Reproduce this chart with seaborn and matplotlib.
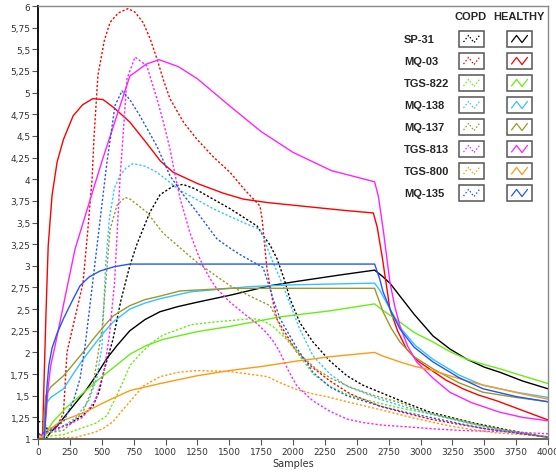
import numpy as np
import pandas as pd
import seaborn as sns
import matplotlib.pyplot as plt
from matplotlib.lines import Line2D
from matplotlib.patches import Rectangle
from matplotlib.ticker import FuncFormatter, MultipleLocator

# ---- data (samples, sensor response) ----
sensors = ["SP-31", "MQ-03", "TGS-822", "MQ-138", "MQ-137", "TGS-813", "TGS-800", "MQ-135"]
colors = ["#000000", "#ff0000", "#66ee11", "#33c4ff", "#99992a", "#ff22ff", "#ff9910", "#2255ff"]

# HEALTHY (solid)
sp31_h_x = [0, 60, 100, 150, 275, 380, 463, 540, 620, 720, 840, 957, 1100, 1250, 1506, 1820, 2030, 2350, 2640, 2700,
            2760, 2839, 2950, 3098, 3230, 3365, 3500, 3624, 3800, 4000]
sp31_h_y = [1.0, 1.0, 1.08, 1.15, 1.38, 1.57, 1.75, 1.93, 2.08, 2.25, 2.38, 2.47, 2.53, 2.58, 2.66, 2.77, 2.82, 2.89, 2.95,
            2.88, 2.80, 2.65, 2.44, 2.19, 2.04, 1.92, 1.83, 1.77, 1.67, 1.58]
mq03_h_x = [0, 35, 50, 63, 80, 110, 150, 200, 275, 350, 430, 510, 600, 720, 850, 960, 1060, 1250, 1450, 1610, 1800, 2000,
            2200, 2400, 2630, 2660, 2700, 2730, 2760, 2820, 2890, 2980, 3070, 3200, 3333, 3450, 3600, 3800, 4000]
mq03_h_y = [1.0, 1.0, 1.8, 2.47, 3.23, 3.81, 4.20, 4.46, 4.73, 4.86, 4.93, 4.92, 4.82, 4.66, 4.42, 4.21, 4.08, 3.95, 3.84,
            3.77, 3.73, 3.70, 3.67, 3.64, 3.61, 3.45, 3.10, 2.80, 2.50, 2.25, 2.04, 1.90, 1.81, 1.68, 1.58, 1.51, 1.44,
            1.33, 1.22]
tgs822_h_x = [0, 50, 118, 220, 330, 460, 588, 722, 850, 980, 1250, 1506, 1898, 2290, 2640, 2700, 2770, 2839, 2950, 3098,
              3230, 3365, 3500, 3624, 3800, 4000]
tgs822_h_y = [1.0, 1.05, 1.2, 1.36, 1.5, 1.67, 1.82, 1.98, 2.08, 2.15, 2.24, 2.30, 2.41, 2.48, 2.56, 2.49, 2.42, 2.35,
              2.23, 2.12, 2.01, 1.92, 1.86, 1.81, 1.73, 1.64]
mq138_h_x = [0, 40, 50, 60, 100, 200, 280, 353, 431, 510, 588, 720, 840, 957, 1200, 1663, 2000, 2640, 2680, 2761, 2850,
             2960, 3098, 3300, 3490, 3750, 4000]
mq138_h_y = [1.0, 1.0, 1.2, 1.4, 1.48, 1.58, 1.76, 1.92, 2.07, 2.22, 2.35, 2.50, 2.57, 2.62, 2.70, 2.76, 2.78, 2.80, 2.72,
             2.50, 2.27, 2.08, 1.92, 1.74, 1.62, 1.54, 1.48]
mq137_h_x = [0, 40, 50, 60, 100, 200, 280, 353, 431, 510, 588, 720, 840, 957, 1114, 1506, 2000, 2640, 2706, 2770, 2839,
             2950, 3098, 3300, 3490, 3750, 4000]
mq137_h_y = [1.0, 1.0, 1.3, 1.5, 1.6, 1.73, 1.87, 2.0, 2.15, 2.29, 2.42, 2.54, 2.61, 2.65, 2.71, 2.74, 2.74, 2.74, 2.47,
             2.28, 2.12, 1.95, 1.81, 1.65, 1.54, 1.48, 1.43]
tgs813_h_x = [0, 50, 65, 80, 100, 133, 200, 290, 400, 500, 600, 720, 850, 950, 1100, 1250, 1500, 1750, 2000, 2300, 2640,
              2670, 2710, 2760, 2800, 2840, 2900, 2970, 3100, 3230, 3400, 3620, 3800, 4000]
tgs813_h_y = [1.05, 1.05, 1.3, 1.6, 1.85, 2.07, 2.55, 3.19, 3.72, 4.2, 4.65, 5.19, 5.33, 5.38, 5.3, 5.16, 4.85, 4.55,
              4.31, 4.1, 3.97, 3.80, 3.39, 2.81, 2.52, 2.30, 2.07, 1.89, 1.70, 1.54, 1.42, 1.31, 1.25, 1.21]
tgs800_h_x = [0, 60, 100, 172, 280, 384, 488, 588, 722, 840, 957, 1247, 1500, 1765, 2030, 2290, 2640, 2700, 2839, 2950,
              3098, 3230, 3365, 3500, 3624, 3800, 4000]
tgs800_h_y = [1.0, 1.05, 1.12, 1.2, 1.26, 1.32, 1.40, 1.47, 1.56, 1.60, 1.64, 1.73, 1.79, 1.84, 1.90, 1.95, 2.0, 1.96,
              1.89, 1.84, 1.79, 1.73, 1.67, 1.62, 1.58, 1.52, 1.46]
mq135_h_x = [0, 50, 60, 70, 85, 110, 150, 200, 270, 330, 400, 486, 600, 720, 2640, 2680, 2706, 2770, 2839, 2950, 3098,
             3300, 3490, 3750, 4000]
mq135_h_y = [1.0, 1.0, 1.3, 1.6, 1.85, 2.05, 2.22, 2.39, 2.6, 2.77, 2.87, 2.94, 2.99, 3.02, 3.02, 2.85, 2.70, 2.47, 2.27,
             2.06, 1.89, 1.71, 1.58, 1.49, 1.43]

# COPD (dotted)
sp31_c_x = [0, 50, 70, 150, 250, 350, 431, 480, 520, 588, 650, 720, 776, 878, 957, 1059, 1137, 1230, 1325, 1506, 1718,
            1765, 1820, 1875, 1930, 1976, 2055, 2157, 2290, 2423, 2550, 2682, 2880, 3074, 3400, 3700, 4000]
sp31_c_y = [1.2, 1.2, 1.12, 1.12, 1.18, 1.27, 1.38, 1.55, 1.8, 2.15, 2.6, 3.0, 3.25, 3.62, 3.82, 3.92, 3.94, 3.89, 3.81,
            3.66, 3.46, 3.35, 3.24, 3.08, 2.85, 2.62, 2.34, 2.12, 1.9, 1.73, 1.62, 1.54, 1.42, 1.31, 1.19, 1.1, 1.02]
mq03_c_x = [0, 60, 150, 200, 227, 290, 353, 390, 424, 440, 470, 520, 565, 630, 706, 760, 824, 880, 933, 985, 1035, 1140,
            1247, 1380, 1506, 1620, 1741, 1757, 1796, 1840, 1875, 1950, 2031, 2150, 2290, 2450, 2682, 2880, 3074, 3300,
            3500, 3750, 4000]
mq03_c_y = [1.0, 1.1, 1.15, 1.3, 2.0, 2.4, 2.8, 3.4, 4.0, 4.5, 5.2, 5.6, 5.81, 5.92, 5.97, 5.93, 5.81, 5.62, 5.39, 5.14,
            4.93, 4.66, 4.46, 4.25, 4.08, 3.88, 3.69, 3.55, 2.96, 2.6, 2.38, 2.2, 2.0, 1.83, 1.67, 1.52, 1.38, 1.3, 1.23,
            1.17, 1.12, 1.07, 1.02]
tgs822_c_x = [0, 200, 330, 450, 541, 600, 667, 722, 800, 900, 980, 1200, 1373, 1686, 1760, 1843, 1950, 2031, 2157, 2300,
              2420, 2549, 2800, 3074, 3300, 3500, 3750, 4000]
tgs822_c_y = [1.02, 1.05, 1.12, 1.18, 1.27, 1.45, 1.66, 1.85, 1.98, 2.12, 2.2, 2.32, 2.35, 2.39, 2.37, 2.30, 2.15, 2.0,
              1.75, 1.6, 1.52, 1.46, 1.37, 1.29, 1.22, 1.15, 1.08, 1.02]
mq138_c_x = [0, 150, 300, 400, 460, 502, 530, 560, 600, 643, 690, 745, 840, 933, 1114, 1373, 1608, 1741, 1765, 1800,
             1843, 1900, 1953, 2050, 2157, 2290, 2423, 2682, 2880, 3074, 3300, 3500, 3750, 4000]
mq138_c_y = [1.05, 1.1, 1.25, 1.45, 1.7, 2.07, 3.0, 3.55, 3.9, 4.04, 4.13, 4.18, 4.15, 4.08, 3.87, 3.66, 3.5, 3.42, 3.35,
             3.2, 3.04, 2.85, 2.65, 2.28, 1.96, 1.75, 1.61, 1.46, 1.37, 1.29, 1.21, 1.14, 1.08, 1.02]
mq137_c_x = [0, 200, 350, 430, 502, 565, 620, 682, 722, 853, 980, 1120, 1247, 1380, 1506, 1663, 1820, 1870, 1922, 2050,
             2188, 2300, 2447, 2640, 2839, 3000, 3200, 3400, 3600, 3800, 4000]
mq137_c_y = [1.05, 1.1, 1.3, 1.6, 2.27, 3.42, 3.7, 3.79, 3.77, 3.62, 3.38, 3.2, 3.04, 2.9, 2.77, 2.65, 2.54, 2.4, 2.22,
             1.98, 1.8, 1.7, 1.6, 1.5, 1.42, 1.33, 1.25, 1.18, 1.12, 1.07, 1.02]
tgs813_c_x = [0, 150, 250, 350, 450, 520, 560, 600, 643, 698, 761, 853, 933, 985, 1035, 1075, 1114, 1192, 1250, 1294,
              1350, 1400, 1506, 1639, 1720, 1796, 1850, 1898, 1960, 2031, 2157, 2290, 2423, 2550, 2700, 2900, 3074, 3300,
              3500, 3750, 4000]
tgs813_c_y = [1.05, 1.12, 1.17, 1.25, 1.45, 1.8, 2.2, 2.8, 4.0, 5.16, 5.41, 5.31, 4.93, 4.65, 4.35, 4.05, 3.78, 3.38,
              3.15, 3.0, 2.85, 2.74, 2.58, 2.42, 2.33, 2.22, 2.12, 2.0, 1.8, 1.61, 1.44, 1.32, 1.23, 1.19, 1.16, 1.14,
              1.12, 1.1, 1.09, 1.08, 1.06]
tgs800_c_x = [0, 300, 450, 520, 588, 650, 720, 824, 957, 1100, 1247, 1500, 1700, 1800, 1898, 2031, 2160, 2290, 2480, 2682,
              2950, 3231, 3400, 3600, 3800, 4000]
tgs800_c_y = [1.0, 1.02, 1.08, 1.13, 1.2, 1.31, 1.43, 1.61, 1.72, 1.77, 1.79, 1.78, 1.74, 1.72, 1.65, 1.57, 1.52, 1.48,
              1.41, 1.34, 1.24, 1.15, 1.11, 1.07, 1.05, 1.03]
mq135_c_x = [0, 100, 200, 280, 330, 369, 420, 463, 541, 604, 659, 720, 800, 933, 1035, 1140, 1247, 1404, 1500, 1584,
             1680, 1765, 1810, 1843, 1898, 2030, 2157, 2290, 2423, 2682, 2880, 3074, 3300, 3500, 3750, 4000]
mq135_c_y = [1.05, 1.1, 1.2, 1.45, 1.7, 2.07, 2.7, 3.23, 4.2, 4.85, 5.02, 4.92, 4.73, 4.38, 4.04, 3.82, 3.62, 3.31, 3.21,
             3.13, 3.05, 2.98, 2.78, 2.62, 2.39, 2.05, 1.77, 1.6, 1.50, 1.38, 1.31, 1.25, 1.18, 1.12, 1.07, 1.02]

healthy = [(sp31_h_x, sp31_h_y), (mq03_h_x, mq03_h_y), (tgs822_h_x, tgs822_h_y), (mq138_h_x, mq138_h_y),
           (mq137_h_x, mq137_h_y), (tgs813_h_x, tgs813_h_y), (tgs800_h_x, tgs800_h_y), (mq135_h_x, mq135_h_y)]
copd = [(sp31_c_x, sp31_c_y), (mq03_c_x, mq03_c_y), (tgs822_c_x, tgs822_c_y), (mq138_c_x, mq138_c_y),
        (mq137_c_x, mq137_c_y), (tgs813_c_x, tgs813_c_y), (tgs800_c_x, tgs800_c_y), (mq135_c_x, mq135_c_y)]

rows = []
for name, (hx, hy), (cx, cy) in zip(sensors, healthy, copd):
    for x, y in zip(cx, cy):
        rows.append([name, "COPD", x, y])
    for x, y in zip(hx, hy):
        rows.append([name, "HEALTHY", x, y])
df = pd.DataFrame(rows, columns=["Sensor", "Group", "Samples", "Value"])

# ---- plot ----
sns.set_style("white")
plt.rcParams["font.family"] = ["DejaVu Sans"]

fig = plt.figure(figsize=(5.56, 4.77), dpi=100)
ax = fig.add_axes([38 / 556, 37 / 477, 510 / 556, 433 / 477])

sns.lineplot(data=df, x="Samples", y="Value", hue="Sensor", style="Group",
             hue_order=sensors, palette=colors,
             dashes={"COPD": (1.6, 1.4), "HEALTHY": ""},
             estimator=None, sort=False, linewidth=1.0, legend=False, ax=ax)

ax.set_xlim(0, 4000)
ax.set_ylim(1, 6)
ax.xaxis.set_major_locator(MultipleLocator(250))
ax.yaxis.set_major_locator(MultipleLocator(0.25))
ax.yaxis.set_major_formatter(FuncFormatter(lambda v, p: f"{v:g}".replace(".", ",")))
ax.tick_params(axis="both", direction="out", length=4, width=0.8, color="#555555",
               labelsize=6.5, labelcolor="#333333", pad=1.5)
ax.tick_params(left=True, bottom=True)
ax.set_xlabel("Samples", fontsize=7, color="#333333", labelpad=2)
ax.set_ylabel("")

ax.spines["left"].set_color("#111111")
ax.spines["left"].set_linewidth(1.4)
ax.spines["bottom"].set_color("#666666")
ax.spines["bottom"].set_linewidth(1.4)
for s in ["top", "right"]:
    ax.spines[s].set_color("#888888")
    ax.spines[s].set_linewidth(1.0)

# ---- legend panel (COPD / HEALTHY swatches) ----
W, H = 556, 477


def fx(px):
    return px / W


def fy(py):
    return 1 - py / H


fig.text(fx(471), fy(17), "COPD", ha="center", va="center", fontsize=8, fontweight="bold",
         family="Liberation Sans")
fig.text(fx(519), fy(17), "HEALTHY", ha="center", va="center", fontsize=8, fontweight="bold",
         family="Liberation Sans")

zig_x = [0.12, 0.36, 0.62, 0.88]
zig_y = [0.25, 0.8, 0.2, 0.8]
for i, (name, c) in enumerate(zip(sensors, colors)):
    cy = 40 + i * 22.0
    fig.text(fx(404), fy(cy), name, ha="left", va="center", fontsize=8, fontweight="bold",
             family="Liberation Sans")
    for bx, ls in [(459, (0, (1.2, 1.6))), (507, "-")]:
        fig.add_artist(Rectangle((fx(bx), fy(cy + 8)), 25 / W, 16 / H, transform=fig.transFigure,
                                 facecolor="white", edgecolor="#555555", linewidth=1.1))
        xs = [fx(bx + 2 + t * 21) for t in zig_x]
        ys = [fy(cy + 8 - 2 - t * 12) for t in zig_y]
        fig.add_artist(Line2D(xs, ys, transform=fig.transFigure, color=c, linewidth=0.9,
                              linestyle=ls))

fig.savefig("out.png", dpi=100)
